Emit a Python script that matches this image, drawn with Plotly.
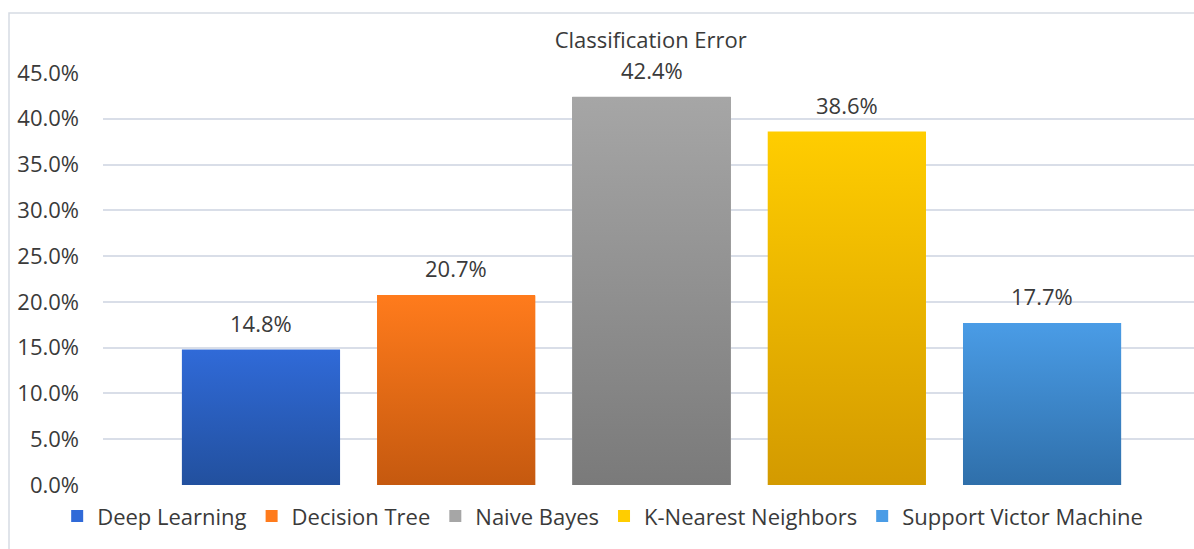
import plotly.graph_objects as go

# Classification error per model
models = ["Deep Learning", "Decision Tree", "Naive Bayes", "K-Nearest Neighbors", "Support Victor Machine"]
errors = [14.8, 20.7, 42.4, 38.6, 17.7]
top_colors = ["#306ad8", "#ff7b1c", "#a6a6a6", "#ffcd00", "#4a9ce6"]
bottom_colors = ["#22509e", "#c5590f", "#7a7a7a", "#d39a00", "#2f6faa"]
y_ticks = [0, 5, 10, 15, 20, 25, 30, 35, 40, 45]
y_tick_labels = [f"{v:.1f}%" for v in y_ticks]

BAR_W = 0.81
FONT = "'Open Sans', sans-serif"
TEXT = "#3a3a3a"

fig = go.Figure()

for i, (name, val) in enumerate(zip(models, errors)):
    # solid bar carrying the legend entry
    fig.add_trace(go.Bar(
        x=[i], y=[val], name=name, width=BAR_W,
        marker=dict(color=top_colors[i], line=dict(width=0)),
        hoverinfo="name+y",
    ))

for i, val in enumerate(errors):
    # vertical gradient shading over each bar
    x0, x1 = i - BAR_W / 2, i + BAR_W / 2
    fig.add_trace(go.Scatter(
        x=[x0, x1, x1, x0, x0], y=[0, 0, val, val, 0],
        mode="lines", line=dict(width=0), fill="toself",
        fillgradient=dict(type="vertical",
                          colorscale=[[0, bottom_colors[i]], [1, top_colors[i]]]),
        showlegend=False, hoverinfo="skip",
    ))

# value labels above the bars
annotations = [
    dict(x=i, y=val, xref="x", yref="y", text=f"{val:.1f}%", showarrow=False,
         yanchor="middle", yshift=27, font=dict(size=22, color=TEXT, family=FONT))
    for i, val in enumerate(errors)
]

fig.update_layout(
    width=1194, height=549,
    paper_bgcolor="white", plot_bgcolor="white",
    margin=dict(l=103, r=0, t=73, b=64),
    font=dict(family=FONT, color=TEXT),
    title=dict(text="Classification Error", x=0.545, xanchor="center",
               y=1 - 40 / 549, yanchor="middle",
               font=dict(size=22, color=TEXT, family=FONT)),
    bargap=0,
    showlegend=True,
    legend=dict(orientation="h", x=0.458, xanchor="center", y=-0.025, yanchor="top",
                font=dict(size=22, color=TEXT, family=FONT),
                itemwidth=30, tracegroupgap=0, traceorder="normal"),
    annotations=annotations,
    xaxis=dict(range=[-0.809, 4.778], showticklabels=False, showgrid=False,
               zeroline=False, showline=False, ticks=""),
    yaxis=dict(range=[0, 45], tickvals=y_ticks, ticktext=y_tick_labels,
               showgrid=True, gridcolor="#d9dee8", gridwidth=1.5,
               zeroline=False, showline=False, ticklabelstandoff=23,
               tickfont=dict(size=22, color=TEXT, family=FONT)),
    shapes=[dict(type="rect", xref="paper", yref="paper",
                 x0=-94 / 1091, x1=1.01, y0=-0.2, y1=1 + 60 / 412,
                 line=dict(color="#d6dbe3", width=1.5), fillcolor="rgba(0,0,0,0)",
                 layer="below")],
)

fig.write_html("out.html")
